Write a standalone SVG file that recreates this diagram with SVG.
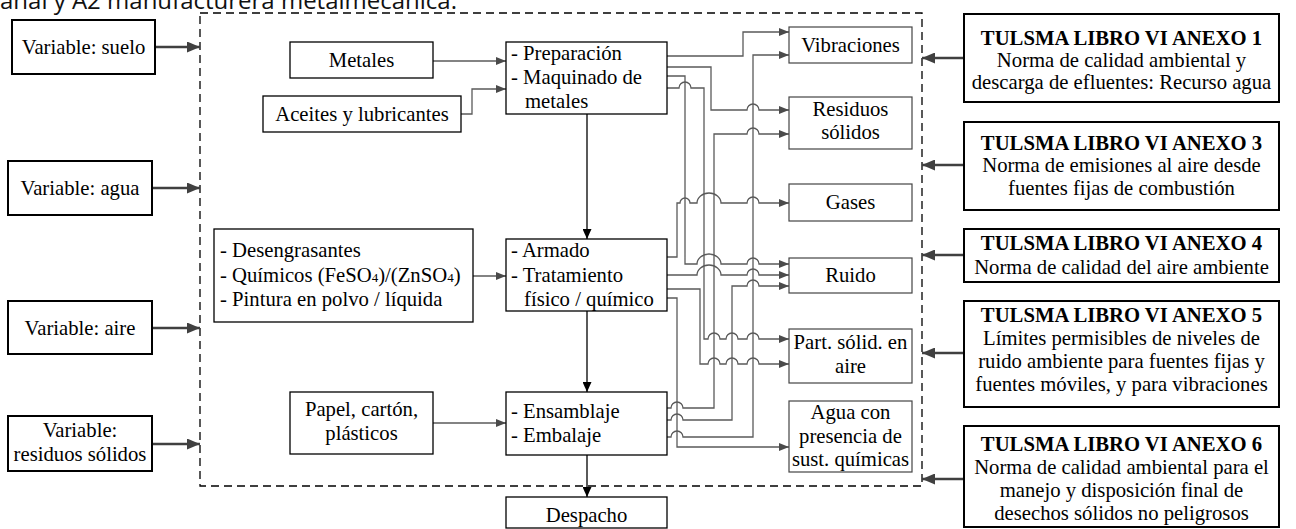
<svg xmlns="http://www.w3.org/2000/svg" width="1296" height="529" viewBox="0 0 1296 529">
<style>
.box{fill:#fff;stroke:#000;stroke-width:1.3}
.vbox{fill:#fff;stroke:#000;stroke-width:2}
.obox{fill:#fff;stroke:#444;stroke-width:1.2}
.t{font-family:"Liberation Serif","Times New Roman",serif;font-size:20.7px;fill:#000}
.c{text-anchor:middle}
.b{font-weight:bold}
.conn{fill:none;stroke:#5a5a5a;stroke-width:1.3;marker-end:url(#ag)}
.flow{fill:none;stroke:#000;stroke-width:1.3;marker-end:url(#ab)}
.thick{fill:none;stroke:#404040;stroke-width:2.5;marker-end:url(#at)}
.title{font-family:"Open Sans","Noto Sans",sans-serif;font-size:24px;fill:#111}
</style>
<defs>
<marker id="ag" markerUnits="userSpaceOnUse" viewBox="0 0 10 8" markerWidth="10" markerHeight="8" refX="10" refY="4" orient="auto"><path d="M0,0L10,4L0,8z" fill="#4a4a4a"/></marker>
<marker id="ab" markerUnits="userSpaceOnUse" viewBox="0 0 10 9" markerWidth="10" markerHeight="9" refX="10" refY="4.5" orient="auto"><path d="M0,0L10,4.5L0,9z" fill="#000"/></marker>
<marker id="at" markerUnits="userSpaceOnUse" viewBox="0 0 13 11" markerWidth="13" markerHeight="11" refX="13" refY="5.5" orient="auto"><path d="M0,0L13,5.5L0,11z" fill="#404040"/></marker>
</defs>
<rect width="1296" height="529" fill="#fff"/>
<text class="title" x="0" y="9">anal y A2 manufacturera metalmecánica.</text>
<rect x="200" y="13" width="722" height="473" fill="none" stroke="#000" stroke-width="1.3" stroke-dasharray="8 5"/>

<g id="connectors">
<path class="thick" d="M155,47H200"/>
<path class="thick" d="M152,188H200"/>
<path class="thick" d="M152,328H200"/>
<path class="thick" d="M152,444H200"/>
<path class="thick" d="M964,58H922"/>
<path class="thick" d="M964,165H922"/>
<path class="thick" d="M964,255H922"/>
<path class="thick" d="M964,353H922"/>
<path class="thick" d="M964,479H922"/>
<path class="conn" d="M433,61H506"/>
<path class="conn" d="M461,114H472V89H506"/>
<path class="conn" d="M473,276H506"/>
<path class="conn" d="M433,423H506"/>
<path class="flow" d="M587,114V239"/>
<path class="flow" d="M587,311V392"/>
<path class="flow" d="M587,455V497"/>
<path class="conn" d="M667,56H743V32H789"/>
<path class="conn" d="M667,437H671a6,6 0 0 1 12,0H753V55H789"/>
<path class="conn" d="M667,67H711V110H747a6,6 0 0 1 12,0H789"/>
<path class="conn" d="M667,408H671a6,6 0 0 1 12,0H714V134H747a6,6 0 0 1 12,0H789"/>
<path class="conn" d="M667,76H685V264H697a12,10 0 0 1 24,0H747a6,6 0 0 1 12,0H789"/>
<path class="conn" d="M667,88H679a6,6 0 0 1 12,0H704V339H708a6,6 0 0 1 12,0H726a6,6 0 0 1 12,0H747a6,6 0 0 1 12,0H789"/>
<path class="conn" d="M667,257H677V203H680a5,5 0 0 1 10,0H697a12,10 0 0 1 24,0H747a6,6 0 0 1 12,0H789"/>
<path class="conn" d="M667,275H697a12,10 0 0 1 24,0H747a6,6 0 0 1 12,0H789"/>
<path class="conn" d="M667,289H700V364H708a6,6 0 0 1 12,0H726a6,6 0 0 1 12,0H747a6,6 0 0 1 12,0H789"/>
<path class="conn" d="M667,298H677V447H789"/>
<path class="conn" d="M667,420H671a6,6 0 0 1 12,0H732V286H747a6,6 0 0 1 12,0H789"/>
</g>

<g id="var-suelo"><rect class="vbox" x="12" y="20" width="143" height="54"/><text class="t c" x="83.5" y="54">Variable: suelo</text></g>
<g id="var-agua"><rect class="vbox" x="8" y="161" width="144" height="54"/><text class="t c" x="80" y="195">Variable: agua</text></g>
<g id="var-aire"><rect class="vbox" x="8" y="301" width="144" height="53"/><text class="t c" x="80" y="335">Variable: aire</text></g>
<g id="var-residuos"><rect class="vbox" x="8" y="416" width="144" height="55"/><text class="t c" x="80" y="437">Variable:</text><text class="t c" x="80" y="461">residuos sólidos</text></g>

<g id="metales"><rect class="box" x="290" y="42" width="143" height="36"/><text class="t c" x="361.5" y="67">Metales</text></g>
<g id="aceites"><rect class="box" x="263" y="96" width="198" height="36"/><text class="t c" x="362" y="121">Aceites y lubricantes</text></g>
<g id="quimicos"><rect class="box" x="214" y="229" width="259" height="93"/>
<text class="t" x="220" y="257">- Desengrasantes</text>
<text class="t" x="220" y="282">- Químicos (FeSO<tspan font-size="13">4</tspan>)/(ZnSO<tspan font-size="13">4</tspan>)</text>
<text class="t" x="220" y="306">- Pintura en polvo / líquida</text></g>
<g id="papel"><rect class="box" x="290" y="392" width="143" height="62"/><text class="t c" x="361.5" y="416">Papel, cartón,</text><text class="t c" x="361.5" y="440">plásticos</text></g>

<g id="preparacion"><rect class="box" x="506" y="42" width="161" height="72"/>
<text class="t" x="511" y="60">- Preparación</text><text class="t" x="511" y="84">- Maquinado de</text><text class="t" x="525" y="108">metales</text></g>
<g id="armado"><rect class="box" x="506" y="239" width="161" height="72"/>
<text class="t" x="511" y="257">- Armado</text><text class="t" x="511" y="282">- Tratamiento</text><text class="t" x="524" y="306">físico / químico</text></g>
<g id="ensamblaje"><rect class="box" x="506" y="392" width="161" height="63"/>
<text class="t" x="511" y="418">- Ensamblaje</text><text class="t" x="511" y="442">- Embalaje</text></g>
<g id="despacho"><rect class="box" x="506" y="497" width="161" height="31"/><text class="t c" x="586.5" y="522">Despacho</text></g>

<g id="vibraciones"><rect class="obox" x="789" y="27" width="123" height="36"/><text class="t c" x="850.5" y="52">Vibraciones</text></g>
<g id="residuos"><rect class="obox" x="789" y="97" width="123" height="52"/><text class="t c" x="850.5" y="116">Residuos</text><text class="t c" x="850.5" y="139">sólidos</text></g>
<g id="gases"><rect class="obox" x="789" y="184" width="123" height="37"/><text class="t c" x="850.5" y="209">Gases</text></g>
<g id="ruido"><rect class="obox" x="789" y="258" width="123" height="35"/><text class="t c" x="850.5" y="282">Ruido</text></g>
<g id="particulas"><rect class="obox" x="789" y="329" width="123" height="54"/><text class="t c" x="850.5" y="349">Part. sólid. en</text><text class="t c" x="850.5" y="373">aire</text></g>
<g id="agua"><rect class="obox" x="789" y="401" width="123" height="71"/><text class="t c" x="850.5" y="419">Agua con</text><text class="t c" x="850.5" y="443">presencia de</text><text class="t c" x="850.5" y="466">sust. químicas</text></g>

<g id="anexo1"><rect class="vbox" x="964" y="14" width="315" height="88"/>
<text class="t c b" x="1121.5" y="45">TULSMA LIBRO VI ANEXO 1</text><text class="t c" x="1121.5" y="67">Norma de calidad ambiental y</text><text class="t c" x="1121.5" y="89">descarga de efluentes: Recurso agua</text></g>
<g id="anexo3"><rect class="vbox" x="964" y="122" width="315" height="88"/>
<text class="t c b" x="1121.5" y="150">TULSMA LIBRO VI ANEXO 3</text><text class="t c" x="1121.5" y="172">Norma de emisiones al aire desde</text><text class="t c" x="1121.5" y="195">fuentes fijas de combustión</text></g>
<g id="anexo4"><rect class="vbox" x="964" y="229" width="315" height="53"/>
<text class="t c b" x="1121.5" y="250">TULSMA LIBRO VI ANEXO 4</text><text class="t c" x="1121.5" y="274">Norma de calidad del aire ambiente</text></g>
<g id="anexo5"><rect class="vbox" x="964" y="301" width="315" height="106"/>
<text class="t c b" x="1121.5" y="322">TULSMA LIBRO VI ANEXO 5</text><text class="t c" x="1121.5" y="345">Límites permisibles de niveles de</text><text class="t c" x="1121.5" y="368">ruido ambiente para fuentes fijas y</text><text class="t c" x="1121.5" y="391">fuentes móviles, y para vibraciones</text></g>
<g id="anexo6"><rect class="vbox" x="964" y="426" width="315" height="101"/>
<text class="t c b" x="1121.5" y="451">TULSMA LIBRO VI ANEXO 6</text><text class="t c" x="1121.5" y="474">Norma de calidad ambiental para el</text><text class="t c" x="1121.5" y="497">manejo y disposición final de</text><text class="t c" x="1121.5" y="520">desechos sólidos no peligrosos</text></g>
</svg>
